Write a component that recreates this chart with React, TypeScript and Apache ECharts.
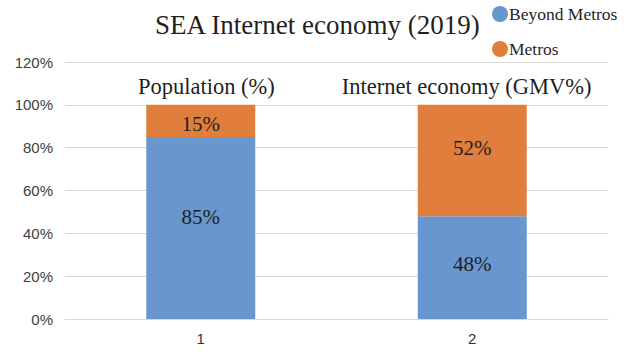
import React, { useEffect, useRef } from "react";
import * as echarts from "echarts";

const categories = ["1", "2"];
const panelTitles = ["Population (%)", "Internet economy (GMV%)"];
const beyondMetros = [85, 48];
const metros = [15, 52];
const yTicks = { min: 0, max: 120, interval: 20 };

const SERIF = "'Liberation Serif', 'DejaVu Serif', serif";
const SANS = "'Liberation Sans', Arial, sans-serif";
const BLUE = "#6897cf";
const ORANGE = "#e07f3d";
const TEXT = "#1f1f1f";

// small vertical nudges for the in-bar labels (as placed in the reference)
const beyondNudge = [-11, -4];
const metrosNudge = [3, -13];

export default function App() {
  const ref = useRef<HTMLDivElement>(null);
  useEffect(() => {
    if (!ref.current) return;
    const chart = echarts.init(ref.current, null, { renderer: "svg" });
    const labelBase = {
      show: true,
      position: "inside",
      formatter: "{c}%",
      fontFamily: SERIF,
      fontSize: 21,
      color: TEXT,
    };
    chart.setOption({
      animation: false,
      backgroundColor: "#ffffff",
      title: {
        text: "SEA Internet economy (2019)",
        left: 150,
        top: 6,
        textStyle: { fontFamily: SERIF, fontSize: 27, fontWeight: "normal", color: TEXT },
      },
      legend: {
        orient: "vertical",
        left: 487,
        top: 0,
        icon: "circle",
        itemWidth: 16,
        itemHeight: 16,
        itemGap: 17,
        textStyle: { fontFamily: SERIF, fontSize: 17.5, color: TEXT, padding: [0, 0, 0, -4] },
        data: ["Beyond Metros", "Metros"],
      },
      grid: { left: 65, right: 26, top: 62, bottom: 33 },
      xAxis: [
        {
          type: "category",
          data: categories,
          axisLine: { lineStyle: { color: "#d9d9d9" } },
          axisTick: { show: false },
          axisLabel: { color: "#333333", fontFamily: SANS, fontSize: 15, margin: 12 },
        },
        {
          type: "category",
          position: "top",
          data: panelTitles,
          axisLine: { show: false },
          axisTick: { show: false },
          axisLabel: {
            inside: true,
            interval: 0,
            margin: 13,
            color: TEXT,
            fontFamily: SERIF,
            fontSize: 22.5,
            formatter: (v: string, i: number) => (i === 0 ? "  " + v : v + "  "),
          },
        },
      ],
      yAxis: {
        type: "value",
        min: yTicks.min,
        max: yTicks.max,
        interval: yTicks.interval,
        axisLabel: { formatter: "{value}%", color: "#404040", fontFamily: SANS, fontSize: 15, margin: 12 },
        axisLine: { show: false },
        axisTick: { show: false },
        splitLine: { lineStyle: { color: "#d9d9d9" } },
      },
      series: [
        {
          name: "Beyond Metros",
          type: "bar",
          stack: "total",
          barWidth: 109,
          itemStyle: { color: BLUE },
          label: labelBase,
          data: beyondMetros.map((v, i) => ({ value: v, label: { offset: [0, beyondNudge[i]] } })),
        },
        {
          name: "Metros",
          type: "bar",
          stack: "total",
          barWidth: 109,
          itemStyle: { color: ORANGE },
          label: labelBase,
          data: metros.map((v, i) => ({ value: v, label: { offset: [0, metrosNudge[i]] } })),
        },
      ],
    });
    return () => chart.dispose();
  }, []);
  return <div ref={ref} style={{ width: 634, height: 352, position: "absolute", left: 0, top: 0 }} />;
}
